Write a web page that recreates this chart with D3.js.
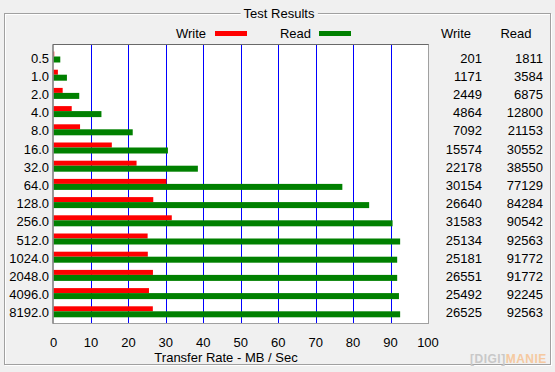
<!DOCTYPE html>
<html lang="en">
<head>
    <meta charset="UTF-8">
    <title>Test Results</title>
    <script type="text/javascript" src="https://cdnjs.cloudflare.com/ajax/libs/d3/7.8.5/d3.min.js"></script>
    <style>
        body { margin: 0; background: #f0f0f0; }
        svg text { font-family: "Liberation Sans", Arial, sans-serif; font-size: 13px; fill: #000; }
    </style>
</head>
<body>
<svg id="chart" width="555" height="372"></svg>

<script type="text/javascript">
    // transfer sizes (KB)
    const sizes = ["0.5", "1.0", "2.0", "4.0", "8.0", "16.0", "32.0", "64.0", "128.0", "256.0",
        "512.0", "1024.0", "2048.0", "4096.0", "8192.0"];
    // KB/sec
    const writeVals = [201, 1171, 2449, 4864, 7092, 15574, 22178, 30154, 26640, 31583,
        25134, 25181, 26551, 25492, 26525];
    const readVals = [1811, 3584, 6875, 12800, 21153, 30552, 38550, 77129, 84284, 90542,
        92563, 91772, 91772, 92245, 92563];
    const xTicks = [0, 10, 20, 30, 40, 50, 60, 70, 80, 90, 100];

    const svg = d3.select("#chart");
    const plot = {left: 53.5, right: 428, top: 45, bottom: 323};

    const x = d3.scaleLinear().domain([0, 100]).range([plot.left, plot.right]);
    const y = d3.scaleBand().domain(sizes).range([plot.top, plot.top + 15 * 18.2]);

    // group box frame
    svg.append("rect")
        .attr("x", 5.5).attr("y", 14.5).attr("width", 546).attr("height", 351)
        .attr("fill", "none").attr("stroke", "#fff");
    svg.append("rect")
        .attr("x", 4.5).attr("y", 13.5).attr("width", 546).attr("height", 351)
        .attr("fill", "none").attr("stroke", "#a0a0a0");
    const title = svg.append("text")
        .attr("x", 279).attr("y", 18)
        .attr("text-anchor", "middle")
        .text("Test Results");
    const tb = title.node().getBBox();
    svg.insert("rect", "text")
        .attr("x", tb.x - 3).attr("y", 10).attr("width", tb.width + 6).attr("height", 8)
        .attr("fill", "#f0f0f0");

    // plot area
    svg.append("rect")
        .attr("x", plot.left).attr("y", plot.top)
        .attr("width", plot.right - plot.left).attr("height", plot.bottom - plot.top)
        .attr("fill", "#fff");

    svg.append("g")
        .selectAll("line")
        .data(xTicks.slice(1, -1))
        .enter().append("line")
        .attr("x1", d => Math.round(x(d)) + 0.5).attr("x2", d => Math.round(x(d)) + 0.5)
        .attr("y1", plot.top).attr("y2", plot.bottom)
        .attr("stroke", "#0000ff");

    svg.append("g")
        .selectAll("rect")
        .data(writeVals)
        .enter().append("rect")
        .attr("x", x(0))
        .attr("y", (d, i) => y(sizes[i]) + 6.5)
        .attr("width", d => x(d / 1000) - x(0))
        .attr("height", 5)
        .attr("fill", "#ff0000");

    svg.append("g")
        .selectAll("rect")
        .data(readVals)
        .enter().append("rect")
        .attr("x", x(0))
        .attr("y", (d, i) => y(sizes[i]) + 11.5)
        .attr("width", d => x(d / 1000) - x(0))
        .attr("height", 6)
        .attr("fill", "#008000");

    // frame of plot (darker left/top)
    svg.append("rect")
        .attr("x", plot.left - 0.5).attr("y", plot.top - 0.5)
        .attr("width", plot.right - plot.left + 1).attr("height", plot.bottom - plot.top + 1)
        .attr("fill", "none").attr("stroke", "#a0a0a0");
    svg.append("path")
        .attr("d", `M${plot.left - 0.5},${plot.bottom + 0.5}V${plot.top - 0.5}H${plot.right + 0.5}`)
        .attr("fill", "none").attr("stroke", "#696969");

    // size labels
    svg.append("g")
        .selectAll("text")
        .data(sizes)
        .enter().append("text")
        .attr("x", 49).attr("y", d => y(d) + 17.5)
        .attr("text-anchor", "end")
        .text(d => d);

    // x axis labels
    svg.append("g")
        .selectAll("text")
        .data(xTicks)
        .enter().append("text")
        .attr("x", d => x(d)).attr("y", 347)
        .attr("text-anchor", "middle")
        .text(d => d);
    svg.append("text")
        .attr("x", 226).attr("y", 362)
        .attr("text-anchor", "middle")
        .text("Transfer Rate - MB / Sec");

    // legend
    svg.append("text").attr("x", 206).attr("y", 38).attr("text-anchor", "end").text("Write");
    svg.append("rect").attr("x", 215).attr("y", 31).attr("width", 32).attr("height", 5).attr("fill", "#ff0000");
    svg.append("text").attr("x", 311).attr("y", 38).attr("text-anchor", "end").text("Read");
    svg.append("rect").attr("x", 319).attr("y", 31).attr("width", 32).attr("height", 5).attr("fill", "#008000");

    // value columns
    svg.append("text").attr("x", 456).attr("y", 38).attr("text-anchor", "middle").text("Write");
    svg.append("text").attr("x", 516).attr("y", 38).attr("text-anchor", "middle").text("Read");
    svg.append("g")
        .selectAll("text")
        .data(writeVals)
        .enter().append("text")
        .attr("x", 482).attr("y", (d, i) => y(sizes[i]) + 17.5)
        .attr("text-anchor", "end")
        .text(d => d);
    svg.append("g")
        .selectAll("text")
        .data(readVals)
        .enter().append("text")
        .attr("x", 543).attr("y", (d, i) => y(sizes[i]) + 17.5)
        .attr("text-anchor", "end")
        .text(d => d);

    // watermark
    const wm = svg.append("text").attr("x", 470).attr("y", 363)
        .style("font-size", "12px").style("font-weight", "bold").style("letter-spacing", "0.5px");
    wm.append("tspan").style("fill", "#c8c8c8").text("[DIGI]");
    wm.append("tspan").style("fill", "#f5c9a0").text("MANIE");
</script>

</body>
</html>
